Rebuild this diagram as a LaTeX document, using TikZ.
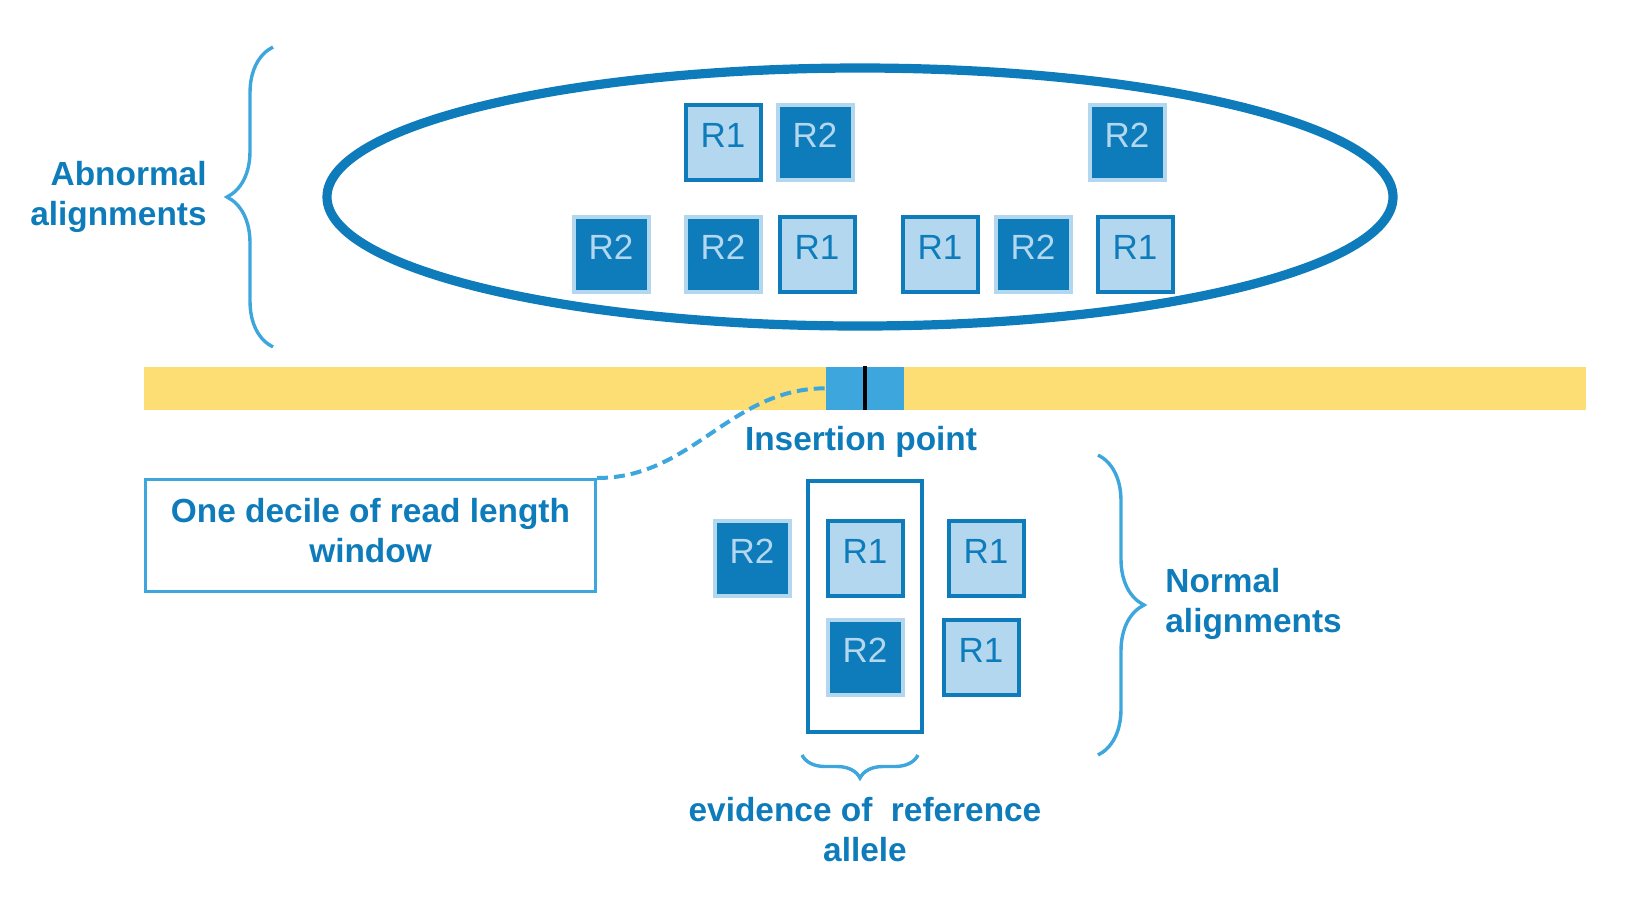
\documentclass[tikz,border=0pt]{standalone}
\usepackage{fontspec}
\setmainfont{Liberation Sans}
\usetikzlibrary{decorations.pathreplacing}
\definecolor{darkblue}{HTML}{0E7CBB}
\definecolor{paleblue}{HTML}{B3D7EF}
\definecolor{midblue}{HTML}{3DA6DD}
\definecolor{chromyellow}{HTML}{FDDE74}
\newcommand{\bracepath}[2]% start, end
{(#1) -- (#2)
}

\begin{document}
\begin{tikzpicture}[x=0.5pt,y=-0.5pt,
  readone/.style={draw=darkblue,fill=paleblue,text=darkblue,line width=2pt,
    minimum size=37.5pt,inner sep=0pt,text depth=6.7pt,
    font=\fontsize{17.5}{20}\selectfont},
  readtwo/.style={readone,draw=paleblue,fill=darkblue,text=paleblue},
  lbl/.style={text=darkblue,inner sep=0pt,font=\fontsize{16.7}{20}\selectfont\bfseries},
  bracket/.style={midblue,line width=1.7pt,decorate,decoration={brace,amplitude=#1}}]
  \useasboundingbox (0,0) rectangle (1629,902);
  % abnormal reads
  \draw[darkblue,line width=4.6pt] (860,197) ellipse (533 and 129);
  \node[readone] (a1) at (723,142) {R1};
  \node[readtwo] (a2) at (815,142) {R2};
  \node[readtwo] (a3) at (1127,142) {R2};
  \node[readtwo] (b1) at (611,254) {R2};
  \node[readtwo] (b2) at (723,254) {R2};
  \node[readone] (b3) at (817,254) {R1};
  \node[readone] (b4) at (940,254) {R1};
  \node[readtwo] (b5) at (1033,254) {R2};
  \node[readone] (b6) at (1135,254) {R1};
  \draw[bracket=23pt] \bracepath{273,347}{273,47};
  \node[lbl,anchor=east,align=right] (abn) at (207,197) {Abnormal\\alignments};
  % reference sequence
  \node[fill=chromyellow,minimum width=721pt,minimum height=21.65pt,inner sep=0pt] (chrom) at (865.4,388.3) {};
  \node[fill=midblue,minimum width=39pt,minimum height=21.65pt,inner sep=0pt] (ins) at (865,388.3) {};
  \draw[black,line width=2pt] (ins.north) -- (ins.south);
  \node[lbl,anchor=base] (inslbl) at (861,450) {Insertion point};
  \node[lbl,draw=midblue,line width=1.7pt,align=center,minimum width=224.8pt,minimum height=55.8pt]
    (win) at (370.5,535.5) {One decile of read length\\window\rule[-5.2pt]{0pt}{0pt}};
  \draw[midblue,line width=2pt,dash pattern=on 5.5pt off 3pt] (win.north east) to[out=0,in=180] (ins.west);
  % normal reads
  \node[draw=darkblue,line width=2pt,minimum width=56.7pt,minimum height=125.5pt,inner sep=0pt] (refbox) at (865,606) {};
  \node[readtwo] (n1) at (752,558) {R2};
  \node[readone] (n2) at (865,558) {R1};
  \node[readone] (n3) at (986,558) {R1};
  \node[readtwo] (n4) at (865,657) {R2};
  \node[readone] (n5) at (981,657) {R1};
  \draw[bracket=23pt] \bracepath{1098,455}{1098,755};
  \node[lbl,anchor=west,align=left] (nrm) at (1165,604) {Normal\\alignments};
  \draw[bracket=11.5pt] \bracepath{918,755}{802,755};
  \node[lbl,align=center] (evd) at (865,830) {evidence of\ \ reference\\allele};
\end{tikzpicture}
\end{document}
